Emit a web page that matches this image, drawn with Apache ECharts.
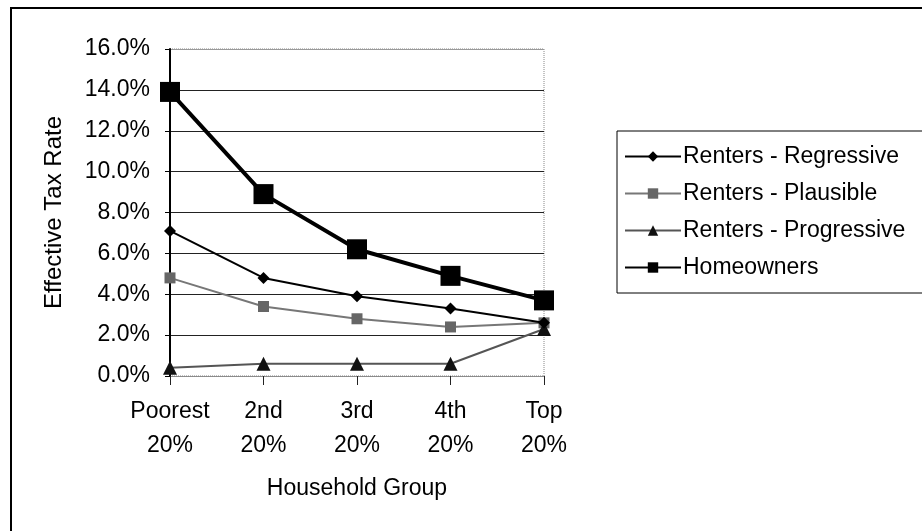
<!DOCTYPE html>
<html>
<head>
    <meta charset="utf-8">
    <title>Effective Tax Rate</title>
    <script src="https://cdn.jsdelivr.net/npm/echarts@6/dist/echarts.min.js"></script>
    <style>
        html, body { margin: 0; padding: 0; background: #fff; }
        #main { width: 922px; height: 531px; }
    </style>
</head>
<body>
<div id="main"></div>
<script type="text/javascript">
    // categories and values (percent)
    var categories = ['Poorest\n20%', '2nd\n20%', '3rd\n20%', '4th\n20%', 'Top\n20%'];
    var regressive = [7.1, 4.8, 3.9, 3.3, 2.6];
    var plausible = [4.8, 3.4, 2.8, 2.4, 2.6];
    var progressive = [0.4, 0.6, 0.6, 0.6, 2.3];
    var homeowners = [13.9, 8.9, 6.2, 4.9, 3.7];
    var seriesNames = ['Renters - Regressive', 'Renters - Plausible', 'Renters - Progressive', 'Homeowners'];

    var font = '"Liberation Sans", Arial, sans-serif';
    var chart = echarts.init(document.getElementById('main'));

    var option = {
        backgroundColor: '#fff',
        animation: false,
        textStyle: { fontFamily: font, color: '#000' },
        graphic: [
            {
                type: 'rect',
                shape: { x: 11, y: 8, width: 960, height: 560 },
                style: { fill: 'none', stroke: '#000', lineWidth: 2 },
                silent: true
            }
        ],
        grid: {
            left: 170, top: 49, width: 374, height: 327,
            show: true, borderColor: '#888', borderWidth: 1, borderType: 'dotted'
        },
        legend: {
            orient: 'vertical',
            left: 617, top: 131,
            itemWidth: 56, itemHeight: 13, itemGap: 14,
            padding: [14, 40, 14, 7],
            borderColor: '#000', borderWidth: 1,
            textStyle: { fontFamily: font, fontSize: 23, color: '#000', padding: [0, 0, 0, -3] },
            data: seriesNames
        },
        xAxis: {
            type: 'category',
            data: categories,
            boundaryGap: false,
            name: 'Household Group',
            nameLocation: 'middle',
            nameGap: 101,
            nameTextStyle: { fontFamily: font, fontSize: 23, color: '#000' },
            axisLine: { lineStyle: { color: '#888', type: 'dotted', width: 1 } },
            axisTick: { length: 9, lineStyle: { color: '#222' } },
            axisLabel: { interval: 0, fontFamily: font, fontSize: 23, color: '#000', lineHeight: 34, margin: 19 }
        },
        yAxis: {
            type: 'value',
            min: 0, max: 16, interval: 2,
            name: 'Effective Tax Rate',
            nameLocation: 'middle',
            nameGap: 104,
            nameTextStyle: { fontFamily: font, fontSize: 24, color: '#000' },
            axisLine: { show: true, lineStyle: { color: '#000', width: 2 } },
            axisTick: { show: true, length: 5, lineStyle: { color: '#000' } },
            axisLabel: {
                fontFamily: font, fontSize: 23, color: '#000', margin: 20,
                formatter: function (v) { return v.toFixed(1) + '%'; }
            },
            splitLine: {
                lineStyle: {
                    color: ['#999', '#222', '#222', '#222', '#222', '#222', '#222', '#222', '#999'],
                    width: 1
                }
            }
        },
        series: [
            {
                name: seriesNames[0], type: 'line', data: regressive,
                symbol: 'diamond', symbolSize: 12, z: 4,
                lineStyle: { color: '#000', width: 2 },
                itemStyle: { color: '#000' }
            },
            {
                name: seriesNames[1], type: 'line', data: plausible,
                symbol: 'rect', symbolSize: 11, z: 3,
                lineStyle: { color: '#777', width: 2 },
                itemStyle: { color: '#666' }
            },
            {
                name: seriesNames[2], type: 'line', data: progressive,
                symbol: 'triangle', symbolSize: 14, z: 3,
                lineStyle: { color: '#555', width: 2 },
                itemStyle: { color: '#111' }
            },
            {
                name: seriesNames[3], type: 'line', data: homeowners,
                symbol: 'rect', symbolSize: 20, z: 5,
                lineStyle: { color: '#000', width: 4 },
                itemStyle: { color: '#000' }
            }
        ]
    };

    chart.setOption(option);
</script>
</body>
</html>
